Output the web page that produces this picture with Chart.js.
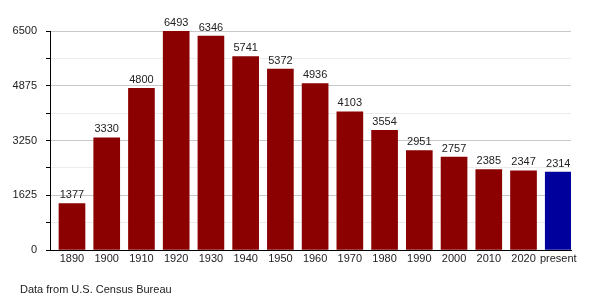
<!DOCTYPE html>
<html>
<head>
<meta charset="utf-8">
<script src="https://cdn.jsdelivr.net/npm/chart.js@4/dist/chart.umd.min.js"></script>
<style>
  body { margin: 0; background: #fff; }
</style>
</head>
<body>
<canvas id="chart" width="600" height="300"></canvas>
<script>
var years = ['1890', '1900', '1910', '1920', '1930', '1940', '1950', '1960', '1970', '1980', '1990', '2000', '2010', '2020', 'present'];
var population = [1377, 3330, 4800, 6493, 6346, 5741, 5372, 4936, 4103, 3554, 2951, 2757, 2385, 2347, 2314];
var yTicks = [0, 1625, 3250, 4875, 6500];
var source = 'Data from U.S. Census Bureau';

var font = { family: '"Liberation Sans", Arial, sans-serif', size: 11 };

// value over each bar + footer note
var labelsPlugin = {
    id: 'labels',
    afterDatasetsDraw: function(chart) {
        var ctx = chart.ctx;
        ctx.save();
        ctx.font = '11px "Liberation Sans", Arial, sans-serif';
        ctx.fillStyle = '#222';
        ctx.textAlign = 'center';
        ctx.textBaseline = 'bottom';
        chart.getDatasetMeta(0).data.forEach(function(bar, i) {
            ctx.fillText(population[i], bar.x, bar.y - 3);
        });
        ctx.textAlign = 'left';
        ctx.textBaseline = 'middle';
        ctx.fillText(source, 20, 290);
        ctx.restore();
    }
};

new Chart(document.getElementById('chart'), {
    type: 'bar',
    data: {
        datasets: [{
            data: population.map(function(v, i) { return { x: i, y: v }; }),
            backgroundColor: years.map(function(y) { return y === 'present' ? '#00009c' : '#8b0000'; }),
            barThickness: 26
        }]
    },
    options: {
        responsive: false,
        animation: false,
        layout: { padding: { left: 0, right: 29, top: 31, bottom: 30 } },
        plugins: { legend: { display: false }, tooltip: { enabled: false } },
        scales: {
            x: {
                type: 'linear',
                offset: false,
                min: -0.633,
                max: 14.367,
                afterBuildTicks: function(s) {
                    s.ticks = years.map(function(y, i) { return { value: i }; });
                },
                afterFit: function(s) { s.height = 20; },
                grid: { display: false, drawTicks: false, offset: false },
                border: { color: '#000', width: 1 },
                ticks: {
                    autoSkip: false,
                    maxRotation: 0,
                    padding: 2,
                    color: '#222',
                    font: font,
                    callback: function(v) { return years[v]; }
                }
            },
            y: {
                min: 0,
                max: 6500,
                afterFit: function(s) { s.width = 50; },
                border: { color: '#000', width: 1 },
                grid: {
                    tickLength: 4,
                    tickColor: '#000',
                    color: function(c) {
                        return yTicks.indexOf(c.tick.value) >= 0 ? '#c8c8c8' : '#ececec';
                    }
                },
                ticks: {
                    stepSize: 812.5,
                    padding: 9,
                    color: '#222',
                    font: font,
                    callback: function(v) { return yTicks.indexOf(v) >= 0 ? v : ''; }
                }
            }
        }
    },
    plugins: [labelsPlugin]
});
</script>
</body>
</html>
